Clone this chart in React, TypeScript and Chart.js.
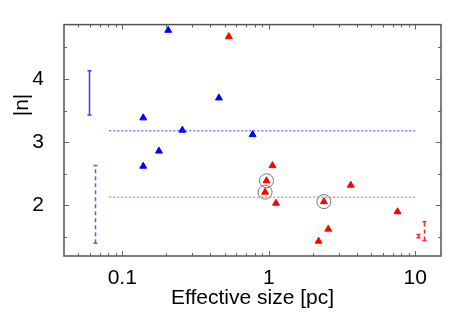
import React, { useEffect, useRef } from 'react';
import { Chart, registerables } from 'chart.js';
Chart.register(...registerables);

// Data
const blueX = [0.206, 0.139, 0.257, 0.178, 0.457, 0.776, 0.139];
const blueY = [4.77, 3.385, 3.19, 2.86, 3.70, 3.12, 2.62];
const redX = [0.534, 1.06, 0.965, 0.944, 1.12, 2.38, 3.63, 7.57, 2.55, 2.19];
const redY = [4.67, 2.63, 2.39, 2.21, 2.035, 2.06, 2.32, 1.90, 1.625, 1.435];
const circledX = [0.965, 0.944, 2.38];
const circledY = [2.39, 2.21, 2.06];
const meanLineX = [0.0815, 10];
const blueMean = 3.18;
const redMean = 2.13;
const errX = [0.059, 0.0654, 11.5, 10.5];
const errLow = [3.43, 1.40, 1.445, 1.49];
const errHigh = [4.13, 2.63, 1.74, 1.54];
const errColor = ['#3a3aff', '#5a5aff', '#ff2020', '#ff2020'];
const errDashed = [false, true, true, false];
const xTickLabels = [0.1, 1, 10];
const xMinorTicks = [0.05, 0.06, 0.07, 0.08, 0.09, 0.2, 0.3, 0.4, 0.5, 0.6, 0.7, 0.8, 0.9, 2, 3, 4, 5, 6, 7, 8, 9];
const yTickLabels = [2, 3, 4];
const yMinorTicks = [1.5, 2.5, 3.5, 4.5];

const FONT = "'Liberation Sans', Arial, Helvetica, sans-serif";

const decorPlugin = {
  id: 'decor',
  afterDatasetsDraw(chart: any) {
    const { ctx, scales } = chart;
    const xs = scales.x, ys = scales.y;
    ctx.save();
    for (let i = 0; i < errX.length; i++) {
      const px = Math.round(xs.getPixelForValue(errX[i])) + 0.5;
      const y1 = ys.getPixelForValue(errLow[i]);
      const y2 = ys.getPixelForValue(errHigh[i]);
      ctx.strokeStyle = errColor[i];
      ctx.lineWidth = 1.5;
      ctx.setLineDash(errDashed[i] ? [4, 3] : []);
      ctx.beginPath();
      ctx.moveTo(px, y1);
      ctx.lineTo(px, y2);
      ctx.stroke();
      ctx.setLineDash([]);
      ctx.beginPath();
      ctx.moveTo(px - 2, y1); ctx.lineTo(px + 2, y1);
      ctx.moveTo(px - 2, y2); ctx.lineTo(px + 2, y2);
      ctx.stroke();
    }
    ctx.restore();
  },
  afterDraw(chart: any) {
    const { ctx, chartArea: a, scales } = chart;
    const xs = scales.x, ys = scales.y;
    ctx.save();
    ctx.strokeStyle = '#666';
    ctx.lineWidth = 1;
    const tick = (x1: number, y1: number, x2: number, y2: number) => {
      ctx.beginPath(); ctx.moveTo(x1, y1); ctx.lineTo(x2, y2); ctx.stroke();
    };
    xMinorTicks.forEach((v) => {
      const p = Math.round(xs.getPixelForValue(v)) + 0.5;
      tick(p, a.bottom, p, a.bottom - 3);
      tick(p, a.top, p, a.top + 3);
    });
    xTickLabels.forEach((v) => {
      const p = Math.round(xs.getPixelForValue(v)) + 0.5;
      tick(p, a.bottom, p, a.bottom - 5);
      tick(p, a.top, p, a.top + 5);
    });
    yMinorTicks.forEach((v) => {
      const p = Math.round(ys.getPixelForValue(v)) + 0.5;
      tick(a.left, p, a.left + 3, p);
      tick(a.right, p, a.right - 3, p);
    });
    yTickLabels.forEach((v) => {
      const p = Math.round(ys.getPixelForValue(v)) + 0.5;
      tick(a.left, p, a.left + 5, p);
      tick(a.right, p, a.right - 5, p);
    });
    ctx.lineWidth = 1.5;
    ctx.strokeStyle = '#555';
    ctx.strokeRect(a.left, a.top, a.right - a.left, a.bottom - a.top);
    ctx.fillStyle = '#000';
    ctx.font = `21px ${FONT}`;
    ctx.textAlign = 'center';
    ctx.textBaseline = 'alphabetic';
    ctx.fillText('Effective size [pc]', (a.left + a.right) / 2, 304);
    ctx.translate(28, 105);
    ctx.rotate(-Math.PI / 2);
    ctx.fillText('|n|', 0, 0);
    ctx.restore();
  },
};

export default function App() {
  const ref = useRef<HTMLCanvasElement>(null);
  useEffect(() => {
    document.body.style.margin = '0';
    const pts = (xsArr: number[], ysArr: number[]) => xsArr.map((x, i) => ({ x, y: ysArr[i] }));
    const chart = new Chart(ref.current!, {
      type: 'scatter',
      data: {
        datasets: [
          {
            type: 'line',
            data: meanLineX.map((x) => ({ x, y: blueMean })),
            borderColor: '#3030ff',
            borderWidth: 1,
            borderDash: [2, 2],
            pointRadius: 0,
          } as any,
          {
            type: 'line',
            data: meanLineX.map((x) => ({ x, y: redMean })),
            borderColor: '#ff5050',
            borderWidth: 1,
            borderDash: [2, 2],
            pointRadius: 0,
          } as any,
          {
            data: pts(blueX, blueY),
            pointStyle: 'triangle',
            pointRadius: 4,
            backgroundColor: '#0000ff',
            borderColor: '#0000ff',
            borderWidth: 1,
          },
          {
            data: pts(redX, redY),
            pointStyle: 'triangle',
            pointRadius: 4,
            backgroundColor: '#ff0000',
            borderColor: '#ff0000',
            borderWidth: 1,
          },
          {
            data: pts(circledX, circledY),
            pointStyle: 'circle',
            pointRadius: 7,
            backgroundColor: 'rgba(0,0,0,0)',
            borderColor: '#777',
            borderWidth: 1,
          },
        ],
      },
      options: {
        animation: false,
        responsive: false,
        layout: { padding: { left: 0, right: 22, top: 17, bottom: 0 } },
        plugins: { legend: { display: false }, tooltip: { enabled: false } },
        scales: {
          x: {
            type: 'logarithmic',
            min: 0.04,
            max: 15,
            grid: { display: false },
            border: { display: false },
            afterBuildTicks: (s: any) => { s.ticks = xTickLabels.map((v) => ({ value: v })); },
            afterFit: (s: any) => { s.height = 61; },
            ticks: {
              font: { size: 21, family: FONT },
              color: '#000',
              padding: 2,
              maxRotation: 0,
              autoSkip: false,
              callback: (v: any) => String(v),
            },
          },
          y: {
            type: 'linear',
            min: 1.2,
            max: 4.86,
            grid: { display: false },
            border: { display: false },
            afterBuildTicks: (s: any) => { s.ticks = yTickLabels.map((v) => ({ value: v })); },
            afterFit: (s: any) => { s.width = 64; },
            ticks: {
              font: { size: 21, family: FONT },
              color: '#000',
              padding: 12,
              callback: (v: any) => String(v),
            },
          },
        },
      },
      plugins: [decorPlugin],
    });
    return () => chart.destroy();
  }, []);
  return (
    <div style={{ position: 'absolute', left: 0, top: 0, width: 463, height: 317 }}>
      <canvas ref={ref} width={463} height={317} style={{ width: 463, height: 317 }} />
    </div>
  );
}
